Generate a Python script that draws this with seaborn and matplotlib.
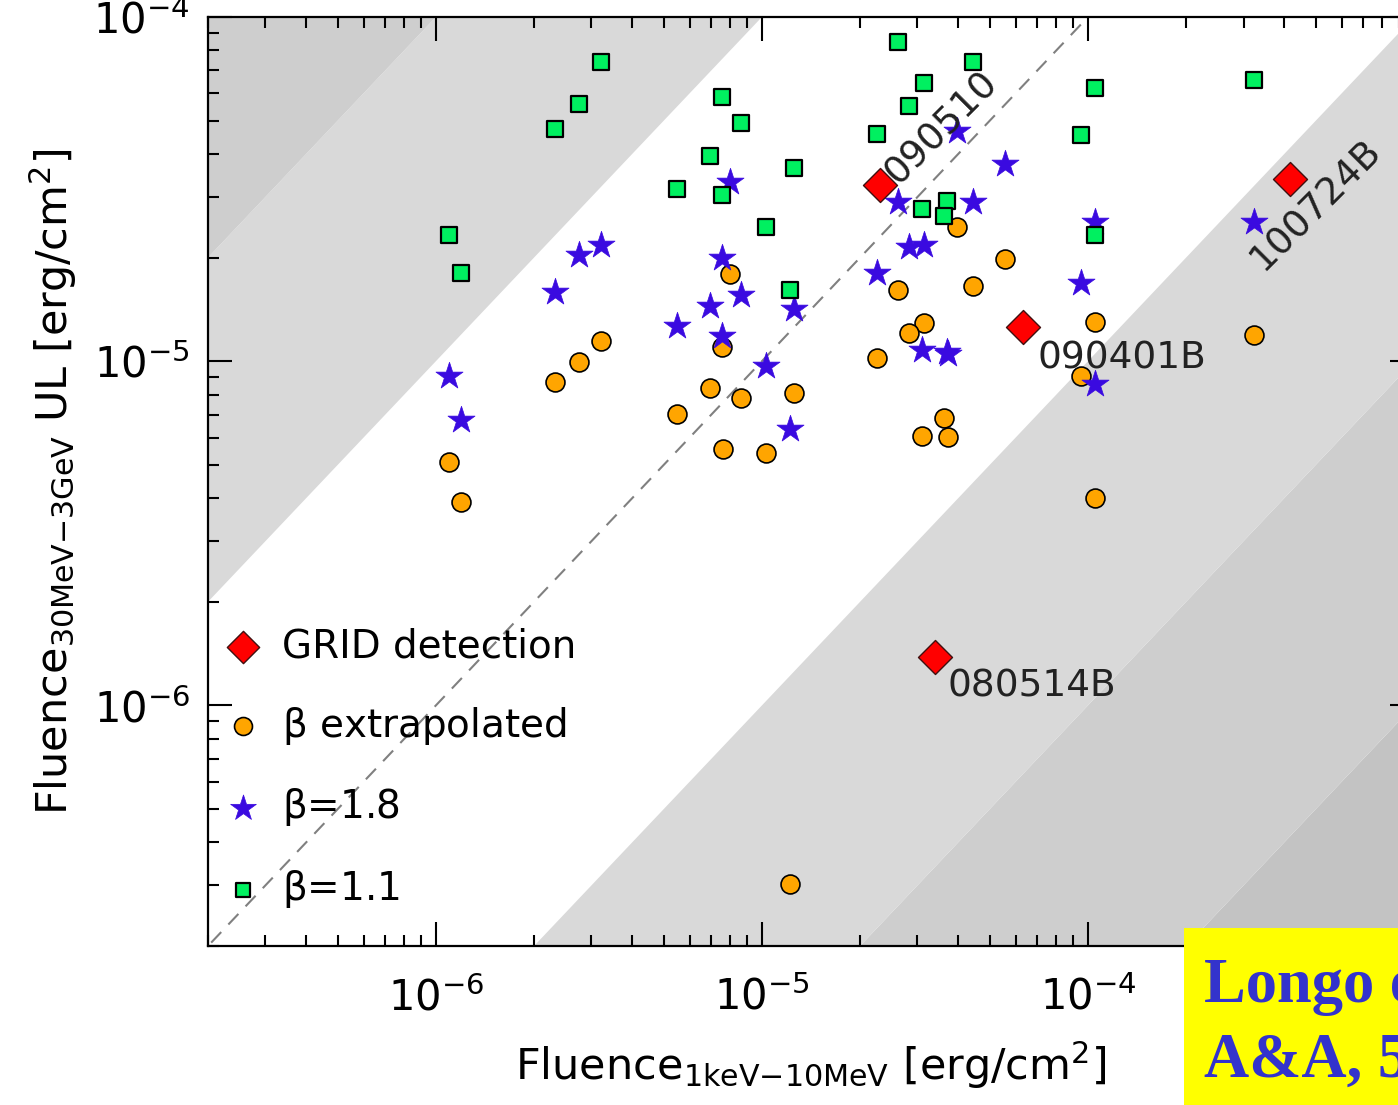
import matplotlib
matplotlib.use('Agg')
import matplotlib.pyplot as plt
from matplotlib.patches import Rectangle
from matplotlib.ticker import NullFormatter
import numpy as np
import seaborn as sns

# values
# x : Fluence 1keV-10MeV [erg/cm2], y : UL Fluence 30MeV-3GeV [erg/cm2]
grid_x = [2.30e-5, 4.17e-4, 6.33e-5, 3.40e-5]
grid_y = [3.24e-5, 3.39e-5, 1.255e-5, 1.387e-6]
grid_names = ['090510', '100724B', '090401B', '080514B']

extr_x = [3.21e-6, 2.75e-6, 2.32e-6, 1.10e-6, 1.19e-6, 7.98e-6, 3.96e-5, 5.56e-5,
          2.61e-5, 4.44e-5, 3.14e-5, 2.83e-5, 2.25e-5, 7.53e-6, 6.93e-6, 8.62e-6,
          1.25e-5, 5.48e-6, 7.58e-6, 1.03e-5, 3.61e-5, 3.10e-5, 3.71e-5, 1.05e-4,
          3.23e-4, 9.53e-5, 1.05e-4, 1.22e-5]
extr_y = [1.143e-5, 9.94e-6, 8.69e-6, 5.09e-6, 3.90e-6, 1.79e-5, 2.45e-5, 1.98e-5,
          1.61e-5, 1.65e-5, 1.29e-5, 1.21e-5, 1.02e-5, 1.10e-5, 8.35e-6, 7.81e-6,
          8.07e-6, 7.02e-6, 5.56e-6, 5.41e-6, 6.84e-6, 6.06e-6, 6.02e-6, 1.30e-5,
          1.19e-5, 9.05e-6, 4.01e-6, 3.03e-7]

b18_x = [3.21e-6, 2.75e-6, 2.32e-6, 7.98e-6, 3.96e-5, 5.56e-5, 2.61e-5, 4.44e-5,
         2.83e-5, 3.14e-5, 2.25e-5, 7.53e-6, 8.62e-6, 6.93e-6, 1.25e-5, 5.48e-6,
         7.53e-6, 1.03e-5, 1.22e-5, 3.10e-5, 3.69e-5, 3.73e-5, 1.05e-4, 9.53e-5,
         3.23e-4, 1.05e-4, 1.10e-6, 1.19e-6]
b18_y = [2.17e-5, 2.03e-5, 1.585e-5, 3.32e-5, 4.67e-5, 3.75e-5, 2.90e-5, 2.90e-5,
         2.14e-5, 2.17e-5, 1.81e-5, 2.00e-5, 1.56e-5, 1.45e-5, 1.415e-5, 1.263e-5,
         1.18e-5, 9.67e-6, 6.35e-6, 1.076e-5, 1.062e-5, 1.05e-5, 2.53e-5, 1.69e-5,
         2.53e-5, 8.58e-6, 9.05e-6, 6.75e-6]

b11_x = [3.21e-6, 2.75e-6, 2.32e-6, 1.10e-6, 1.19e-6, 2.61e-5, 4.44e-5, 3.14e-5,
         2.83e-5, 2.25e-5, 7.53e-6, 8.62e-6, 6.93e-6, 1.25e-5, 5.48e-6, 7.53e-6,
         1.03e-5, 3.10e-5, 3.69e-5, 3.61e-5, 1.22e-5, 1.05e-4, 3.23e-4, 9.53e-5,
         1.05e-4]
b11_y = [7.41e-5, 5.60e-5, 4.73e-5, 2.32e-5, 1.80e-5, 8.46e-5, 7.41e-5, 6.44e-5,
         5.52e-5, 4.58e-5, 5.86e-5, 4.93e-5, 3.95e-5, 3.65e-5, 3.17e-5, 3.03e-5,
         2.45e-5, 2.76e-5, 2.93e-5, 2.65e-5, 1.61e-5, 6.23e-5, 6.57e-5, 4.55e-5,
         2.33e-5]

# ratio bands y/x
band_lo = [1e-6, 1e-3, 1e-2, 10, 100]
band_hi = [1e-3, 1e-2, 1e-1, 100, 1e6]
band_col = ['#c3c3c3', '#cecece', '#d9d9d9', '#d9d9d9', '#cecece']

xlim = (2e-7, 1e-3)
ylim = (2e-7, 1e-4)
xticks = [1e-6, 1e-5, 1e-4, 1e-3]
xtick_labels = [r'$10^{-6}$', r'$10^{-5}$', r'$10^{-4}$', '']  # last one is under the yellow box

plt.rcParams['font.family'] = ['DejaVu Sans']
plt.rcParams['mathtext.default'] = 'regular'
plt.rcParams['axes.linewidth'] = 1.6

fig = plt.figure(figsize=(13.98, 11.05), dpi=100)
# the original picture is cut on the right: the axes goes past the figure edge
ax = fig.add_axes([208 / 1398, 159 / 1105, 1206 / 1398, 929 / 1105])
ax.set_xscale('log')
ax.set_yscale('log')

xs = np.array([1e-9, 1e-1])
for lo, hi, col in zip(band_lo, band_hi, band_col):
    ax.fill_between(xs, lo * xs, hi * xs, color=col, lw=0, zorder=0)

ax.plot(xs, xs, ls=(0, (7, 5)), color='#808080', lw=1.5, zorder=1)

sns.scatterplot(x=extr_x, y=extr_y, marker='o', s=185, color='#ffa500',
                edgecolor='black', linewidth=1.2, label=r'$\beta$ extrapolated',
                legend=False, ax=ax, zorder=3)
sns.scatterplot(x=b18_x, y=b18_y, marker='*', s=420, color='#3a0ae0',
                edgecolor='#3a0ae0', linewidth=0.5, label=r'$\beta$=1.8',
                legend=False, ax=ax, zorder=4)
sns.scatterplot(x=b11_x, y=b11_y, marker='s', s=125, color='#00f060',
                edgecolor='black', linewidth=1.6, label=r'$\beta$=1.1',
                legend=False, ax=ax, zorder=5)
sns.scatterplot(x=grid_x, y=grid_y, marker='D', s=300, color='#ff0000',
                edgecolor='#401010', linewidth=1.0, label='GRID detection',
                legend=False, ax=ax, zorder=6)

# burst names
label_style = {
    '090510': dict(xytext=(13, 0), rotation=45),
    '100724B': dict(xytext=(-19, -67), rotation=45),
    '090401B': dict(xytext=(10, -30), rotation=0),
    '080514B': dict(xytext=(9, -29), rotation=0),
}
for name, gx, gy in zip(grid_names, grid_x, grid_y):
    st = label_style[name]
    ax.annotate(name, (gx, gy), xytext=st['xytext'], textcoords='offset points',
                rotation=st['rotation'], rotation_mode='anchor', ha='left',
                va='baseline', fontsize=27, color='#222222', zorder=7)

ax.set_xlim(xlim)
ax.set_ylim(ylim)
ax.set_xticks(xticks, labels=xtick_labels)

ax.tick_params(which='both', direction='in', top=True, right=True, width=1.5,
               labelsize=30, colors='black')
ax.tick_params(which='major', length=17)
ax.tick_params(which='minor', length=8)
ax.tick_params(axis='x', which='major', pad=22)
ax.tick_params(axis='y', which='major', pad=13)
ax.xaxis.set_minor_formatter(NullFormatter())
ax.yaxis.set_minor_formatter(NullFormatter())

ax.set_xlabel(r'Fluence$_{1keV{-}10MeV}$ [erg/cm$^{2}$]', fontsize=31, labelpad=15)
ax.set_ylabel(r'Fluence$_{30MeV{-}3GeV}$ UL [erg/cm$^{2}$]', fontsize=31, labelpad=10)

h, l = ax.get_legend_handles_labels()
order = [l.index('GRID detection'), l.index(r'$\beta$ extrapolated'),
         l.index(r'$\beta$=1.8'), l.index(r'$\beta$=1.1')]
ax.legend([h[i] for i in order], [l[i] for i in order], loc='lower left',
          bbox_to_anchor=(0.0, 0.022), frameon=False, fontsize=28,
          handlelength=1.0, handletextpad=0.5, labelspacing=1.02,
          borderpad=0.4, borderaxespad=0.0, markerscale=0.95)

# yellow reference box pasted on the slide
fig.add_artist(Rectangle((1184 / 1398, 0), 0.2, 177 / 1105, transform=fig.transFigure,
                         facecolor='#ffff00', edgecolor='none', zorder=8))
fig.text(1204 / 1398, 103 / 1105, 'Longo et al.', fontfamily='Liberation Serif',
         fontweight='bold', fontsize=45, color='#3333cc', va='baseline', zorder=9)
fig.text(1204 / 1398, 28 / 1105, 'A&A, 547', fontfamily='Liberation Serif',
         fontweight='bold', fontsize=45, color='#3333cc', va='baseline', zorder=9)

fig.savefig('out.png', dpi=100)
